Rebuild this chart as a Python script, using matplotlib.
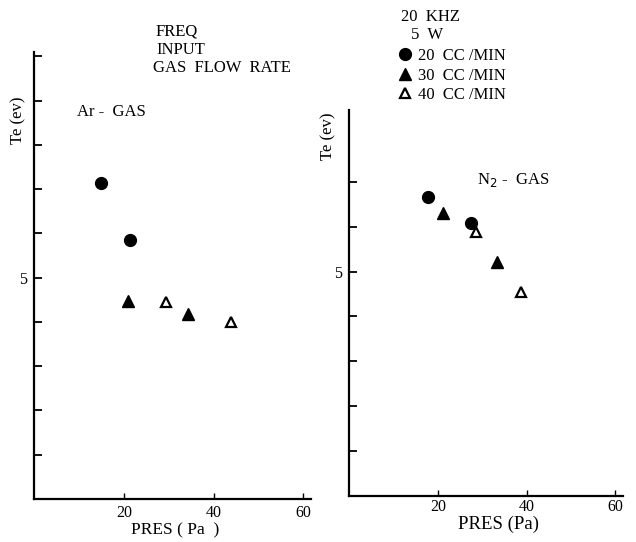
import matplotlib
matplotlib.use("Agg")
import matplotlib.pyplot as plt

plt.rcParams['font.family'] = ['Liberation Serif', 'DejaVu Serif']

# Ar gas: electron temperature vs pressure for each gas flow rate
ar_p20 = [14.9, 21.3]
ar_te20 = [7.13, 5.86]
ar_p30 = [20.9, 34.3]
ar_te30 = [4.48, 4.19]
ar_p40 = [29.4, 43.9]
ar_te40 = [4.46, 4.0]

# N2 gas
n2_p20 = [17.8, 27.4]
n2_te20 = [6.67, 6.09]
n2_p30 = [21.1, 33.3]
n2_te30 = [6.31, 5.21]
n2_p40 = [28.5, 38.7]
n2_te40 = [5.89, 4.54]

xticks = [20, 40, 60]
flow_labels = ['20  CC /MIN', '30  CC /MIN', '40  CC /MIN']

fig = plt.figure(figsize=(6.36, 5.42), dpi=100)
W, H = 636.0, 542.0

ax1 = fig.add_axes([34.3 / W, (H - 499) / H, (311 - 34.3) / W, (499 - 52) / H])
ax2 = fig.add_axes([349 / W, (H - 496) / H, (623 - 349) / W, (496 - 110) / H])


def style(ax, ymax, yticks, xpad):
    ax.set_xlim(0, 61.7)
    ax.set_ylim(0, ymax)
    for s in ['top', 'right']:
        ax.spines[s].set_visible(False)
    for s in ['left', 'bottom']:
        ax.spines[s].set_linewidth(1.6)
    ax.set_xticks(xticks)
    ax.set_xticklabels([str(t) for t in xticks], fontsize=11.5)
    ax.set_yticks(yticks)
    ax.set_yticklabels(['5' if t == 5 else '' for t in yticks], fontsize=11.5)
    ax.tick_params(axis='y', direction='in', length=6, width=1.3, pad=5)
    ax.tick_params(axis='x', direction='in', length=4, width=1.0, pad=xpad)


def draw(ax, p20, t20, p30, t30, p40, t40):
    a, = ax.plot(p20, t20, 'o', color='black', markersize=8.5, linestyle='none')
    b, = ax.plot(p30, t30, '^', color='black', markersize=8.5, linestyle='none')
    c, = ax.plot(p40, t40, '^', markerfacecolor='white', markeredgecolor='black',
                 markeredgewidth=1.6, markersize=7, linestyle='none')
    return [a, b, c]


style(ax1, 10.1, list(range(1, 11)), 4.5)
style(ax2, 8.6, list(range(1, 8)), 2.5)

draw(ax1, ar_p20, ar_te20, ar_p30, ar_te30, ar_p40, ar_te40)
handles = draw(ax2, n2_p20, n2_te20, n2_p30, n2_te30, n2_p40, n2_te40)

# left panel texts
fig.text(156 / W, 1 - 32 / H, 'FREQ', fontsize=12, va='center', ha='left')
fig.text(156 / W, 1 - 50 / H, 'INPUT', fontsize=12, va='center', ha='left')
fig.text(153 / W, 1 - 68 / H, 'GAS  FLOW  RATE', fontsize=12, va='center', ha='left')
fig.text(77 / W, 1 - 112 / H, 'Ar -  GAS', fontsize=12, va='center', ha='left')
fig.text(18 / W, 1 - 120 / H, 'Te (ev)', fontsize=12, rotation=90, va='center', ha='center')
fig.text(175 / W, 1 - 530 / H, 'PRES ( Pa  )', fontsize=12.5, va='center', ha='center')

# right panel texts
fig.text(401 / W, 1 - 17 / H, '20  KHZ', fontsize=12, va='center', ha='left')
fig.text(411 / W, 1 - 35 / H, '5  W', fontsize=12, va='center', ha='left')
fig.text(477 / W, 1 - 180 / H, r'N$_2$ -  GAS', fontsize=12, va='center', ha='left')
fig.text(328 / W, 1 - 136 / H, 'Te (ev)', fontsize=12, rotation=90, va='center', ha='center')
fig.text(498 / W, 1 - 524 / H, 'PRES (Pa)', fontsize=13.5, va='center', ha='center')

fig.legend(handles, flow_labels, loc='upper left', bbox_to_anchor=(398 / W, 1 - 48 / H),
           frameon=False, fontsize=12, handlelength=0.8, handletextpad=0.4,
           labelspacing=0.22, borderpad=0, borderaxespad=0)

fig.savefig('out.png', dpi=100)
